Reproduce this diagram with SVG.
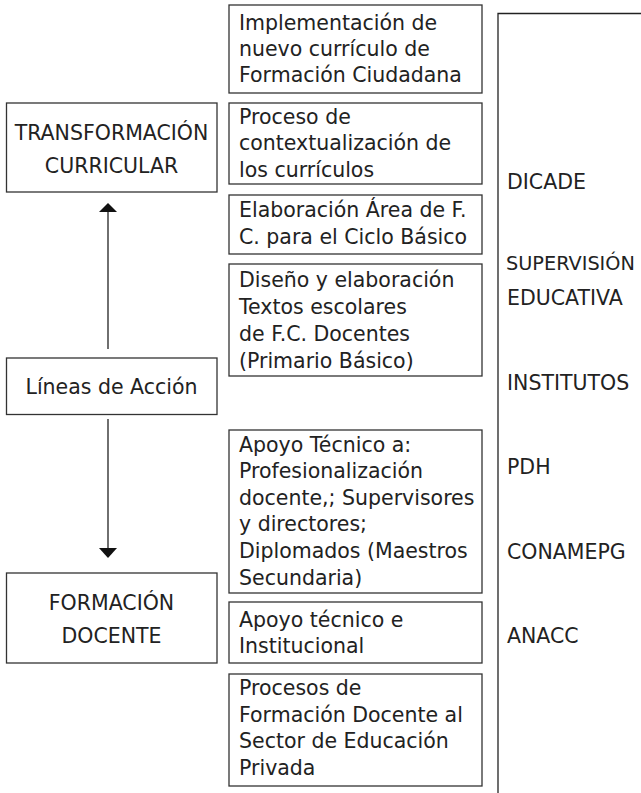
<svg xmlns="http://www.w3.org/2000/svg" width="641" height="793" viewBox="0 0 641 793">
<style>
.box{fill:#fff;stroke:#333;stroke-width:1.3}
.t{font-family:"DejaVu Sans",sans-serif;font-size:20.5px;fill:#222}
.c{text-anchor:middle}
.ln{stroke:#222;stroke-width:1.3;fill:none}
.ah{fill:#111}
</style>
<rect width="641" height="793" fill="#fff"/>
<g id="connectors">
<line class="ln" x1="108" y1="349" x2="108" y2="210"/>
<polygon class="ah" points="108,203 99,212 117,212"/>
<line class="ln" x1="108" y1="419" x2="108" y2="550"/>
<polygon class="ah" points="99,548 117,548 108,558"/>
<polyline class="ln" points="498,793 498,13.5 641,13.5"/>
</g>
<g id="transformacion">
<rect class="box" x="6.5" y="103" width="210.5" height="89"/>
<text class="t c" x="111.5" y="140">TRANSFORMACIÓN</text>
<text class="t c" x="111.5" y="173">CURRICULAR</text>
</g>
<g id="lineas">
<rect class="box" x="6.5" y="358" width="210.5" height="56.5"/>
<text class="t c" x="111.5" y="394">Líneas de Acción</text>
</g>
<g id="formacion">
<rect class="box" x="6.5" y="573" width="210.5" height="90"/>
<text class="t c" x="111.5" y="610">FORMACIÓN</text>
<text class="t c" x="111.5" y="643">DOCENTE</text>
</g>
<g id="b1">
<rect class="box" x="229" y="5" width="253" height="88"/>
<text class="t" x="239" y="30">Implementación de</text>
<text class="t" x="239" y="56">nuevo currículo de</text>
<text class="t" x="239" y="82">Formación Ciudadana</text>
</g>
<g id="b2">
<rect class="box" x="229" y="103" width="253" height="81"/>
<text class="t" x="239" y="124">Proceso de</text>
<text class="t" x="239" y="150">contextualización de</text>
<text class="t" x="239" y="177">los currículos</text>
</g>
<g id="b3">
<rect class="box" x="229" y="195" width="253" height="59"/>
<text class="t" x="239" y="217">Elaboración Área de F.</text>
<text class="t" x="239" y="244">C. para el Ciclo Básico</text>
</g>
<g id="b4">
<rect class="box" x="229" y="264" width="253" height="112"/>
<text class="t" x="239" y="287">Diseño y elaboración</text>
<text class="t" x="239" y="314">Textos escolares</text>
<text class="t" x="239" y="341">de F.C. Docentes</text>
<text class="t" x="239" y="368">(Primario Básico)</text>
</g>
<g id="b5">
<rect class="box" x="229" y="430" width="253" height="163"/>
<text class="t" x="239" y="452">Apoyo Técnico a:</text>
<text class="t" x="239" y="478">Profesionalización</text>
<text class="t" x="239" y="505">docente,; Supervisores</text>
<text class="t" x="239" y="531">y directores;</text>
<text class="t" x="239" y="558">Diplomados (Maestros</text>
<text class="t" x="239" y="585">Secundaria)</text>
</g>
<g id="b6">
<rect class="box" x="229" y="602" width="253" height="61"/>
<text class="t" x="239" y="627">Apoyo técnico e</text>
<text class="t" x="239" y="653">Institucional</text>
</g>
<g id="b7">
<rect class="box" x="229" y="674" width="253" height="112"/>
<text class="t" x="239" y="695">Procesos de</text>
<text class="t" x="239" y="722">Formación Docente al</text>
<text class="t" x="239" y="748">Sector de Educación</text>
<text class="t" x="239" y="775">Privada</text>
</g>
<g id="actores">
<text class="t" x="507" y="189">DICADE</text>
<text class="t" x="506" y="270" style="font-size:19.3px">SUPERVISIÓN</text>
<text class="t" x="507" y="305">EDUCATIVA</text>
<text class="t" x="507" y="390">INSTITUTOS</text>
<text class="t" x="507" y="474">PDH</text>
<text class="t" x="507" y="559">CONAMEPG</text>
<text class="t" x="507" y="643">ANACC</text>
</g>
</svg>
